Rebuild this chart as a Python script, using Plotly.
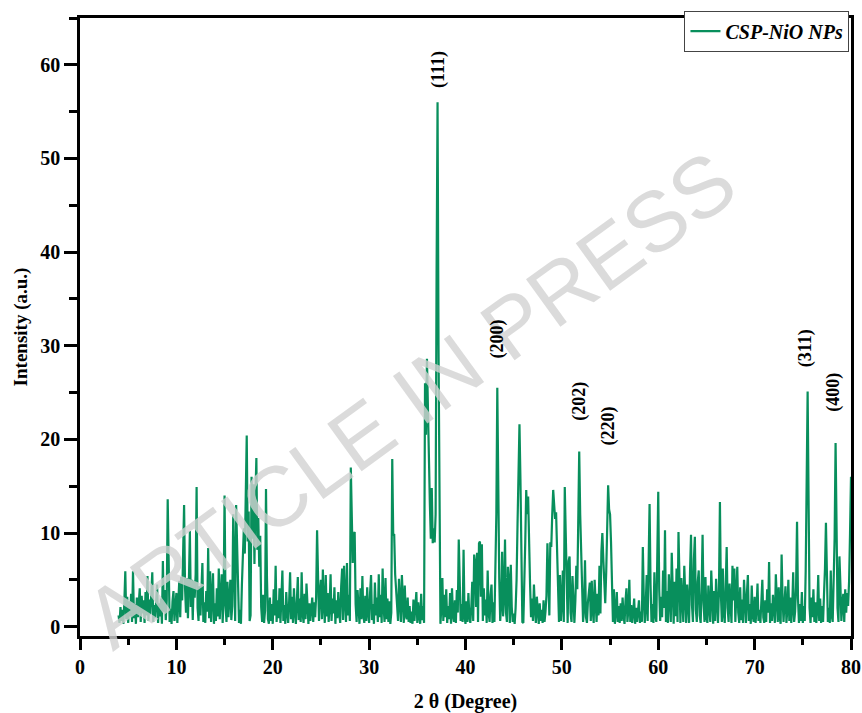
import numpy as np
import plotly.graph_objects as go

# 2-theta scan: 4.0 .. 80.0 deg, step 0.1
theta_start = 4.0
theta_step = 0.1
intensity_rows = [
    [1.2, 0.4, 2.1, 0.6, 1.8, 0.3, 2.6, 5.9, 0.8, 3.2],        # 4
    [0.4, 2.7, 1.1, 3.5, 0.5, 5.9, 0.9, 2.4, 0.3, 3.1],        # 5
    [1.0, 2.6, 4.1, 0.5, 3.3, 1.4, 2.8, 0.4, 3.7, 1.2],        # 6
    [5.4, 0.6, 2.9, 1.3, 4.6, 5.8, 0.5, 2.3, 0.9, 3.4],        # 7
    [4.5, 0.4, 2.5, 1.1, 3.0, 0.3, 7.0, 1.6, 3.9, 0.7],        # 8
    [2.8, 13.6, 4.2, 0.5, 1.9, 0.3, 2.7, 3.8, 0.6, 2.4],       # 9
    [3.6, 0.4, 2.2, 4.9, 1.0, 5.3, 2.8, 9.5, 13.0, 4.1],       # 10
    [1.5, 5.2, 0.9, 4.8, 10.2, 2.1, 5.0, 0.7, 4.9, 3.1],       # 11
    [5.6, 14.9, 2.0, 0.6, 4.3, 1.2, 3.9, 6.8, 0.5, 2.6],       # 12
    [0.4, 3.8, 1.6, 8.4, 0.9, 5.9, 0.5, 3.3, 5.7, 0.3],        # 13
    [2.5, 0.6, 4.1, 1.1, 6.2, 0.8, 3.4, 5.6, 0.4, 2.9],        # 14
    [14.0, 2.3, 0.5, 4.8, 1.0, 3.6, 5.0, 0.7, 2.2, 12.0],      # 15
    [4.1, 0.6, 13.0, 7.5, 3.2, 0.4, 1.8, 0.3, 4.5, 8.8],       # 16
    [10.5, 7.8, 14.2, 20.4, 9.1, 12.3, 0.6, 1.2, 16.0, 9.4],   # 17
    [15.2, 6.7, 13.8, 18.0, 8.2, 11.6, 6.4, 9.7, 2.1, 0.5],    # 18
    [3.4, 0.4, 1.7, 14.7, 5.2, 0.8, 0.3, 3.1, 0.6, 2.4],       # 19
    [0.3, 4.0, 1.2, 6.5, 0.5, 2.8, 0.9, 4.1, 0.4, 3.5],        # 20
    [6.0, 0.6, 2.3, 0.3, 3.7, 1.5, 0.4, 2.6, 5.8, 0.8],        # 21
    [3.2, 0.4, 4.1, 1.6, 0.3, 2.7, 5.3, 0.7, 3.0, 0.5],        # 22
    [5.8, 1.4, 0.4, 3.5, 0.8, 4.6, 1.2, 0.3, 2.5, 0.6],        # 23
    [1.9, 3.1, 0.5, 2.6, 1.0, 3.2, 10.3, 4.9, 0.6, 3.7],       # 24
    [5.0, 0.8, 6.1, 2.3, 0.4, 5.5, 1.1, 3.6, 0.5, 2.2],        # 25
    [5.6, 0.6, 3.0, 1.4, 4.2, 0.3, 2.8, 0.9, 3.7, 1.5],        # 26
    [0.4, 4.3, 6.2, 0.7, 6.5, 2.9, 0.5, 6.8, 1.2, 3.4],        # 27
    [0.6, 17.0, 11.2, 6.8, 9.9, 10.1, 2.4, 0.5, 3.9, 1.1],     # 28
    [0.3, 4.1, 0.8, 5.4, 1.3, 0.4, 3.3, 0.6, 4.2, 1.5],        # 29
    [0.4, 3.6, 5.5, 0.7, 2.4, 0.3, 4.7, 1.2, 3.1, 0.5],        # 30
    [5.6, 1.0, 3.4, 0.4, 6.2, 2.1, 0.5, 5.2, 0.8, 3.0],        # 31
    [0.5, 2.7, 0.3, 1.5, 17.9, 9.8, 9.9, 5.6, 4.0, 2.3],       # 32
    [0.6, 5.1, 1.8, 0.5, 5.5, 2.6, 0.4, 4.4, 1.2, 0.8],        # 33
    [3.1, 0.5, 2.2, 0.4, 1.6, 0.3, 2.9, 0.6, 1.8, 3.7],        # 34
    [0.4, 2.6, 1.1, 0.3, 3.5, 0.7, 2.2, 0.4, 26.0, 20.5],      # 35
    [28.6, 22.0, 15.0, 13.2, 9.4, 14.8, 8.9, 10.5, 9.0, 12.0], # 36
    [38.0, 56.0, 30.0, 8.0, 0.3, 2.1, 5.2, 0.6, 3.4, 1.0],     # 37
    [4.0, 0.4, 2.2, 0.8, 3.6, 0.3, 4.1, 1.2, 0.5, 2.8],        # 38
    [0.4, 3.9, 1.5, 9.3, 3.0, 0.6, 2.4, 0.5, 8.2, 1.1],        # 39
    [0.3, 2.7, 0.5, 3.6, 1.1, 0.4, 2.0, 4.8, 0.6, 7.7],        # 40
    [6.8, 2.1, 7.9, 0.5, 8.9, 9.1, 3.2, 8.8, 0.6, 4.1],        # 41
    [1.2, 2.9, 0.4, 6.0, 1.5, 0.5, 3.4, 4.5, 0.4, 2.6],        # 42
    [0.5, 4.8, 12.0, 25.5, 14.0, 5.2, 0.6, 2.4, 8.0, 1.1],     # 43
    [3.2, 9.3, 1.5, 0.5, 6.4, 4.9, 0.4, 6.6, 2.1, 0.5],        # 44
    [1.4, 0.3, 2.0, 5.0, 11.0, 16.5, 21.6, 15.8, 7.0, 0.5],    # 45
    [0.4, 3.5, 9.0, 14.6, 12.0, 13.9, 7.5, 4.5, 1.0, 3.0],     # 46
    [0.6, 4.5, 2.0, 0.4, 3.2, 1.0, 0.3, 2.5, 0.6, 1.8],        # 47
    [0.4, 2.8, 0.5, 1.6, 3.3, 8.9, 5.0, 1.2, 9.0, 8.5],        # 48
    [12.0, 14.6, 13.0, 11.5, 12.2, 7.0, 2.0, 0.5, 5.5, 0.6],   # 49
    [2.6, 6.0, 0.5, 14.9, 10.0, 2.4, 0.4, 7.0, 7.5, 1.5],      # 50
    [0.5, 5.4, 3.0, 0.4, 2.8, 6.5, 4.0, 11.0, 18.7, 12.0],     # 51
    [8.5, 4.0, 0.5, 2.0, 7.1, 1.0, 0.4, 2.6, 3.8, 4.7],        # 52
    [0.6, 4.9, 1.8, 0.4, 5.0, 2.2, 0.5, 3.5, 1.2, 6.5],        # 53
    [1.4, 8.0, 10.0, 7.2, 4.8, 2.5, 5.8, 11.0, 15.1, 12.5],    # 54
    [12.0, 9.0, 3.0, 0.5, 4.0, 0.3, 1.6, 3.7, 0.5, 2.2],       # 55
    [0.4, 2.5, 0.6, 3.1, 1.2, 0.3, 2.7, 4.1, 0.5, 1.8],        # 56
    [5.0, 0.5, 2.3, 0.4, 1.5, 3.0, 0.3, 2.0, 0.5, 1.4],        # 57
    [2.8, 0.4, 1.6, 0.5, 8.5, 3.0, 0.4, 2.3, 5.5, 0.6],        # 58
    [6.0, 13.1, 4.5, 0.5, 2.4, 0.4, 5.8, 1.2, 0.5, 9.0],       # 59
    [14.4, 4.0, 0.6, 3.2, 1.0, 6.0, 2.0, 10.3, 0.5, 3.8],      # 60
    [0.4, 5.6, 2.1, 0.5, 7.9, 3.4, 0.3, 4.8, 1.1, 6.2],        # 61
    [0.5, 10.1, 3.7, 0.4, 5.2, 1.6, 0.5, 6.5, 2.2, 0.4],       # 62
    [4.5, 1.3, 0.4, 6.0, 9.8, 2.3, 0.5, 7.2, 9.6, 1.8],        # 63
    [0.5, 4.8, 6.0, 1.2, 0.4, 3.9, 9.8, 2.6, 0.5, 5.3],        # 64
    [1.0, 0.4, 4.4, 2.0, 0.5, 6.0, 1.6, 0.3, 3.8, 0.6],        # 65
    [5.1, 2.2, 0.4, 4.0, 13.3, 3.5, 0.5, 6.2, 1.4, 0.4],       # 66
    [3.6, 8.5, 2.0, 0.5, 4.6, 1.2, 0.4, 6.5, 2.8, 6.2],        # 67
    [0.5, 3.3, 6.4, 1.5, 0.4, 4.2, 0.7, 2.9, 0.4, 5.0],        # 68
    [1.8, 0.4, 3.6, 5.5, 0.6, 2.4, 0.3, 4.4, 1.2, 0.5],        # 69
    [3.2, 0.4, 2.0, 4.6, 0.6, 1.8, 0.4, 3.7, 5.0, 1.0],        # 70
    [0.4, 2.8, 0.5, 4.0, 1.5, 6.9, 0.4, 2.5, 0.6, 3.4],        # 71
    [1.2, 0.4, 5.6, 2.0, 0.5, 4.2, 1.0, 0.3, 7.7, 3.0],        # 72
    [0.5, 2.6, 4.3, 0.4, 1.9, 5.0, 0.6, 3.1, 0.4, 2.0],        # 73
    [5.8, 0.5, 1.6, 4.2, 11.2, 3.0, 0.4, 2.4, 0.6, 3.7],       # 74
    [0.4, 2.2, 0.6, 6.0, 14.0, 25.1, 13.5, 2.0, 0.4, 3.1],     # 75
    [1.0, 4.0, 0.5, 2.6, 0.4, 1.8, 5.5, 0.6, 3.0, 0.4],        # 76
    [2.2, 0.5, 3.5, 6.2, 11.1, 4.0, 0.5, 2.0, 0.4, 6.0],       # 77
    [1.2, 0.5, 4.0, 9.5, 19.6, 12.0, 2.0, 0.5, 7.5, 4.5],      # 78
    [0.6, 2.4, 3.5, 0.5, 4.0, 1.5, 3.6, 2.2, 4.8, 10.0],       # 79
    [16.0],                                                     # 80
]
intensity = [v for row in intensity_rows for v in row]
two_theta = np.round(theta_start + theta_step * np.arange(len(intensity)), 2)

peak_labels = ["(111)", "(200)", "(202)", "(220)", "(311)", "(400)"]
peak_x = [37.2, 43.3, 51.85, 54.8, 75.3, 78.15]
peak_y = [59.5, 30.7, 24.1, 21.4, 29.7, 25.0]

x_ticks = [0, 10, 20, 30, 40, 50, 60, 70, 80]
y_ticks = [0, 10, 20, 30, 40, 50, 60]

serif = "Liberation Serif"
green = "#088f5c"

fig = go.Figure()
fig.add_trace(go.Scatter(
    x=two_theta, y=intensity, mode="lines", name="<b><i>CSP-NiO NPs</i></b>",
    line=dict(color=green, width=2.2),
))

# watermark first so the peak labels stay on top of it
fig.add_annotation(xref="paper", yref="paper", x=0.428, y=0.383,
                   text="ARTICLE IN PRESS", textangle=-36, showarrow=False,
                   font=dict(family="Liberation Sans", size=85, color="rgba(210,210,210,0.8)"))

for lab, px, py in zip(peak_labels, peak_x, peak_y):
    fig.add_annotation(x=px, y=py, text="<b>" + lab + "</b>", textangle=-90,
                       showarrow=False, font=dict(family=serif, size=18, color="black"))

axis_common = dict(
    showline=True, linecolor="black", linewidth=2.5, mirror=True,
    ticks="outside", tickwidth=2.5, tickcolor="black",
    showgrid=False, zeroline=False, automargin=False,
    tickfont=dict(family=serif, size=20, color="black"),
)
fig.update_xaxes(range=[0, 80], tickvals=x_ticks, ticktext=["<b>%d</b>" % t for t in x_ticks],
                 ticklen=11,
                 minor=dict(ticks="outside", dtick=5, ticklen=6, tickwidth=2.5, tickcolor="black"),
                 title=dict(text="<b>2 θ (Degree)</b>", font=dict(family=serif, size=20, color="black"), standoff=18),
                 **axis_common)
fig.update_yaxes(range=[-1, 65], tickvals=y_ticks, ticktext=["<b>%d</b>" % t for t in y_ticks],
                 ticklen=13,
                 minor=dict(ticks="outside", dtick=5, ticklen=8, tickwidth=2.5, tickcolor="black"),
                 title=dict(text="<b>Intensity (a.u.)</b>", font=dict(family=serif, size=19, color="black"), standoff=8),
                 **axis_common)

fig.update_layout(
    width=862, height=713,
    margin=dict(l=80, r=11, t=15, b=77),
    paper_bgcolor="white", plot_bgcolor="white",
    showlegend=True,
    legend=dict(x=0.998, y=1.012, xanchor="right", yanchor="top",
                bordercolor="#444", borderwidth=1, bgcolor="white",
                font=dict(family=serif, size=20, color="black")),
)
fig.write_html("out.html", config={"displayModeBar": False},
               post_script="document.body.style.margin='0';document.body.style.overflow='hidden';")
